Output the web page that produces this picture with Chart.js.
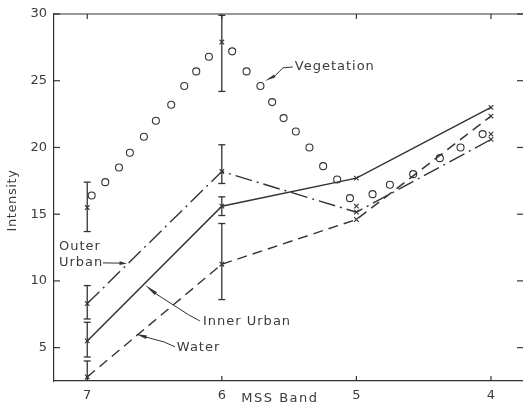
<!DOCTYPE html>
<html><head><meta charset="utf-8">
<script src="https://cdn.jsdelivr.net/npm/chart.js@4/dist/chart.umd.min.js"></script>
<style>html,body{margin:0;padding:0;background:#fff;}#wrap{width:523px;height:403px;position:relative}</style>
</head><body><div id="wrap"><canvas id="c" width="523" height="403"></canvas></div>
<script>
// ---- data ----
const bandTicks = [7, 6, 5, 4];
const intensityTicks = [5, 10, 15, 20, 25, 30];
const bands = [7, 6, 5, 4];
const innerUrban = [5.5, 15.6, 17.7, 23.0];
const outerUrban = [8.3, 18.2, 15.15, 20.6];
const water = [2.8, 11.25, 14.6, 22.35];
const vegetationMean = [15.5, 27.9, 15.6, 21.0];
const errBands = [7, 6];
const innerLow = [4.3, 14.9], innerHigh = [6.9, 16.3];
const outerLow = [7.15, 17.3], outerHigh = [9.65, 20.2];
const waterLow = [1.5, 8.6], waterHigh = [4.0, 14.3];
const vegLow = [13.7, 24.2], vegHigh = [17.4, 29.9];
const vegSpecBand = [6.967, 6.866, 6.764, 6.683, 6.579, 6.49, 6.376, 6.279, 6.19, 6.096, 5.923, 5.816, 5.713, 5.626, 5.541, 5.45, 5.349, 5.247, 5.143, 5.048, 4.88, 4.751, 4.578, 4.38, 4.226, 4.062];
const vegSpecIntensity = [16.4, 17.4, 18.5, 19.6, 20.8, 22.0, 23.2, 24.6, 25.7, 26.8, 27.2, 25.7, 24.6, 23.4, 22.2, 21.2, 20.0, 18.6, 17.6, 16.2, 16.5, 17.2, 18.0, 19.2, 20.0, 21.0];

const ink = '#333';
const textInk = '#3c3c3c';
const FONT = 'DejaVu Sans';
const pts = (xs, ys) => xs.map((v, i) => ({x: v, y: ys[i]}));

const datasets = [];
datasets.push({label: 'Vegetation', data: pts(vegSpecBand, vegSpecIntensity), showLine: false,
  pointStyle: 'circle', pointRadius: 3.5, pointBorderWidth: 1.1, pointBorderColor: ink, pointBackgroundColor: 'rgba(255,255,255,0)'});
datasets.push({label: 'Inner Urban', data: pts(bands, innerUrban), showLine: true, borderColor: ink, borderWidth: 1.5,
  pointStyle: 'crossRot', pointRadius: 3.2, pointBorderWidth: 1.1, pointBorderColor: ink});
datasets.push({label: 'Outer Urban', data: pts(bands, outerUrban), showLine: true, borderColor: ink, borderWidth: 1.4, borderDash: [17, 5, 2, 5],
  pointStyle: 'crossRot', pointRadius: 3.2, pointBorderWidth: 1.1, pointBorderColor: ink});
datasets.push({label: 'Water', data: pts(bands, water), showLine: true, borderColor: ink, borderWidth: 1.4, borderDash: [10, 6],
  pointStyle: 'crossRot', pointRadius: 3.2, pointBorderWidth: 1.1, pointBorderColor: ink});
datasets.push({label: 'Vegetation mean', data: pts(bands, vegetationMean), showLine: false,
  pointStyle: 'crossRot', pointRadius: 3.2, pointBorderWidth: 1.1, pointBorderColor: ink});
[[innerLow, innerHigh], [outerLow, outerHigh], [waterLow, waterHigh], [vegLow, vegHigh]].forEach(([lo, hi]) => {
  errBands.forEach((b, i) => {
    datasets.push({label: 'err', data: [{x: b, y: lo[i]}, {x: b, y: hi[i]}], showLine: true, borderColor: ink, borderWidth: 1.3,
      pointStyle: 'line', pointRadius: 3.5, pointBorderWidth: 1.3, pointBorderColor: ink});
  });
});

const decor = {
  id: 'decor',
  afterDraw(chart) {
    const {ctx, chartArea: ca, scales} = chart;
    const X = scales.x, Y = scales.y;
    const P = (xv, yv) => [X.getPixelForValue(xv), Y.getPixelForValue(yv)];
    ctx.save();
    ctx.strokeStyle = ink; ctx.fillStyle = textInk; ctx.lineWidth = 1.2;
    const seg = (a, b, c, d) => { ctx.beginPath(); ctx.moveTo(a, b); ctx.lineTo(c, d); ctx.stroke(); };
    // top border
    seg(ca.left, ca.top, ca.right, ca.top);
    // inward ticks
    bandTicks.forEach(v => { const px = X.getPixelForValue(v); seg(px, ca.bottom, px, ca.bottom - 5); seg(px, ca.top, px, ca.top + 5); });
    intensityTicks.forEach(v => { const py = Y.getPixelForValue(v); seg(ca.left, py, ca.left + 6, py); seg(ca.right, py, ca.right - 6, py); });

    // text
    ctx.font = '13px "' + FONT + '"';
    ctx.letterSpacing = '1px';
    ctx.textBaseline = 'middle'; ctx.textAlign = 'left';
    let p;
    p = P(5.458, 26.03); ctx.fillText('Vegetation', p[0], p[1]);
    p = P(7.21, 12.57); ctx.fillText('Outer', p[0], p[1]);
    p = P(7.21, 11.37); ctx.fillText('Urban', p[0], p[1]);
    p = P(6.140, 6.97); ctx.fillText('Inner Urban', p[0], p[1]);
    p = P(6.334, 4.98); ctx.fillText('Water', p[0], p[1]);
    ctx.letterSpacing = '1.5px';
    ctx.textAlign = 'center';
    ctx.fillText('MSS Band', X.getPixelForValue(5.568), ca.bottom + 18);
    ctx.save();
    ctx.letterSpacing = '0.6px';
    ctx.translate(13, (ca.top + ca.bottom) / 2 + 3);
    ctx.rotate(-Math.PI / 2);
    ctx.fillText('Intensity', 0, 0);
    ctx.restore();

    // leaders
    ctx.fillStyle = ink;
    ctx.lineWidth = 1;
    const poly = (arr) => { ctx.beginPath(); arr.forEach((q, i) => { const r = P(q[0], q[1]); i ? ctx.lineTo(r[0], r[1]) : ctx.moveTo(r[0], r[1]); }); ctx.stroke(); };
    const wedge = (from, to, w) => {
      const a = P(from[0], from[1]), b = P(to[0], to[1]);
      const dx = b[0] - a[0], dy = b[1] - a[1], L = Math.hypot(dx, dy), nx = -dy / L * w, ny = dx / L * w;
      ctx.beginPath(); ctx.moveTo(a[0] + nx, a[1] + ny); ctx.lineTo(a[0] - nx, a[1] - ny); ctx.lineTo(b[0], b[1]); ctx.closePath(); ctx.fill();
    };
    poly([[5.472, 26.03], [5.546, 25.96], [5.606, 25.36]]);
    wedge([5.606, 25.36], [5.680, 24.98], 1.6);
    poly([[6.883, 11.35], [6.74, 11.33]]);
    wedge([6.76, 11.33], [6.705, 11.30], 1.8);
    poly([[6.163, 7.0], [6.245, 7.45], [6.50, 9.1]]);
    wedge([6.49, 9.05], [6.571, 9.7], 1.8);
    poly([[6.348, 5.06], [6.43, 5.43], [6.571, 5.81]]);
    wedge([6.56, 5.78], [6.638, 6.03], 1.8);
    ctx.restore();
  }
};

const noPad = s => { s.paddingLeft = 0; s.paddingRight = 0; s.paddingTop = 0; s.paddingBottom = 0; };
const tickFont = {family: FONT, size: 13};
new Chart(document.getElementById('c'), {
  type: 'scatter',
  data: {datasets},
  options: {
    responsive: false, animation: false,
    layout: {padding: 0, autoPadding: false},
    plugins: {legend: {display: false}, tooltip: {enabled: false}},
    scales: {
      x: {type: 'linear', position: 'bottom', reverse: true, min: 3.762, max: 7.247,
        afterBuildTicks: s => { s.ticks = bandTicks.map(v => ({value: v})); },
        afterFit: s => { s.height = 22; noPad(s); },
        grid: {display: false, drawTicks: false},
        border: {display: true, color: ink, width: 1.2},
        ticks: {font: tickFont, color: textInk, padding: 7, maxRotation: 0, autoSkip: false, callback: v => String(v)}},
      x2: {type: 'linear', axis: 'x', position: 'top', reverse: true, min: 3.762, max: 7.247,
        afterFit: s => { s.height = 14; noPad(s); },
        grid: {display: false, drawTicks: false}, border: {display: false}, ticks: {display: false}},
      y: {type: 'linear', position: 'left', min: 2.5, max: 30,
        afterBuildTicks: s => { s.ticks = intensityTicks.map(v => ({value: v})); },
        afterFit: s => { s.width = 54; noPad(s); },
        grid: {display: false, drawTicks: false},
        border: {display: true, color: ink, width: 1.2},
        ticks: {font: tickFont, color: textInk, padding: 7, callback: v => String(v)}},
      y2: {type: 'linear', axis: 'y', position: 'right', min: 2.5, max: 30,
        afterFit: s => { s.width = 0; noPad(s); },
        grid: {display: false, drawTicks: false}, border: {display: false}, ticks: {display: false}}
    }
  },
  plugins: [decor]
});
</script>
</body></html>
